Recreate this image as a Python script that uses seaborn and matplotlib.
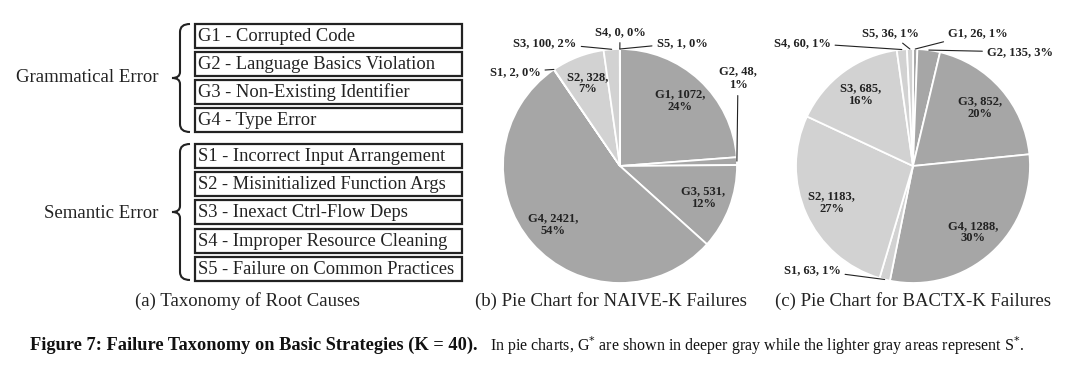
import numpy as np
import matplotlib
matplotlib.use("Agg")
import matplotlib.pyplot as plt
import seaborn as sns
from matplotlib.patches import Rectangle, PathPatch
from matplotlib.path import Path

# ---------------- data ----------------
codes = ["G1", "G2", "G3", "G4", "S1", "S2", "S3", "S4", "S5"]
cause_names = ["Corrupted Code", "Language Basics Violation", "Non-Existing Identifier",
               "Type Error", "Incorrect Input Arrangement", "Misinitialized Function Args",
               "Inexact Ctrl-Flow Deps", "Improper Resource Cleaning",
               "Failure on Common Practices"]
group_names = ["Grammatical Error", "Semantic Error"]
naive_counts = [1072, 48, 531, 2421, 2, 328, 100, 0, 1]
bactx_counts = [26, 135, 852, 1288, 63, 1183, 685, 60, 36]
panel_titles = ["(a) Taxonomy of Root Causes", "(b) Pie Chart for NAIVE-K Failures",
                "(c) Pie Chart for BACTX-K Failures"]

sns.set_theme(style="white")
plt.rcParams["font.family"] = ["Liberation Serif", "DejaVu Serif"]

W, H = 1080, 377
fig = plt.figure(figsize=(W / 100, H / 100), dpi=100)
ax = fig.add_axes([0, 0, 1, 1])
dark, light = "#a6a6a6", "#d2d2d2"
colors = [dark if c.startswith("G") else light for c in codes]

def Y(y):
    return H - y

# ---------------- panel (a) ----------------
box_tops = [24, 52, 80, 108, 144, 172, 200, 229, 257]
box_h = 23.5
for top, code, name in zip(box_tops, codes, cause_names):
    ax.add_patch(Rectangle((195, Y(top + box_h)), 267, box_h, fill=False,
                           edgecolor="#222222", lw=1.6))
    ax.text(198, Y(top + box_h / 2 + 0.5), f"{code} - {name}", fontsize=13.3,
            ha="left", va="center", color="#222222")

def brace(x_end, x_spine, x_tip, y_top, y_bot):
    yt, yb = Y(y_top), Y(y_bot)
    ym = (yt + yb) / 2
    verts = [(x_end, yt), (x_spine, yt), (x_spine, yt - 8),
             (x_spine, ym + 6),
             (x_spine, ym), (x_tip, ym),
             (x_spine, ym), (x_spine, ym - 6),
             (x_spine, yb + 8),
             (x_spine, yb), (x_end, yb)]
    codes_p = [Path.MOVETO, Path.CURVE3, Path.CURVE3, Path.LINETO,
               Path.CURVE3, Path.CURVE3, Path.CURVE3, Path.CURVE3,
               Path.LINETO, Path.CURVE3, Path.CURVE3]
    ax.add_patch(PathPatch(Path(verts, codes_p), fill=False, lw=1.5, edgecolor="#222222"))

brace(190, 180, 172, 24, 132)
brace(190, 180, 172, 144, 280)
ax.text(158, Y(78), group_names[0], fontsize=13.5, ha="right", va="center", color="#222222")
ax.text(158, Y(213), group_names[1], fontsize=13.5, ha="right", va="center", color="#222222")

# ---------------- pies ----------------
R = 117
lab_kw = dict(fontsize=9, fontweight="bold", color="#222222", ha="center", va="center")

def draw_pie(counts, cx, cy, external):
    total = sum(counts)
    wedges, _ = ax.pie(counts, colors=colors, startangle=90, counterclock=False,
                       center=(cx, Y(cy)), radius=R, frame=True,
                       wedgeprops=dict(edgecolor="white", linewidth=1.3))
    for w, code, v in zip(wedges, codes, counts):
        pct = round(100 * v / total)
        mid = np.deg2rad((w.theta1 + w.theta2) / 2)
        if code in external:
            tx, ty, txt = external[code]
            txt = txt.format(code=code, v=v, p=pct)
            ex, ey = cx + R * np.cos(mid), Y(cy) + R * np.sin(mid)
            ax.annotate(txt, xy=(ex, ey), xytext=(tx, Y(ty)),
                        arrowprops=dict(arrowstyle="-", lw=0.8, color="#222222",
                                        shrinkA=1, shrinkB=0), **lab_kw)
        else:
            r = 0.76 * R
            ax.text(cx + r * np.cos(mid), Y(cy) + r * np.sin(mid),
                    f"{code}, {v},\n{pct}%", linespacing=1.05, **lab_kw)

one = "{code}, {v}, {p}%"
draw_pie(naive_counts, 620, 166, {
    "S1": (515, 72, one), "S3": (545, 43, one), "S4": (620, 32, one),
    "S5": (682, 43, one), "G2": (738, 78, "{code}, {v},\n{p}%")})
draw_pie(bactx_counts, 913, 166, {
    "S5": (890, 33, one), "G1": (978, 33, one), "G2": (1020, 52, one),
    "S4": (802, 43, one), "S1": (812, 270, one)})

# ---------------- captions ----------------
for x, t in zip([247, 611, 913], panel_titles):
    ax.text(x, Y(301), t, fontsize=13.5, ha="center", va="center", color="#222222")

ax.text(30, Y(345), "Figure 7: Failure Taxonomy on Basic Strategies (K = 40).",
        fontsize=13.2, fontweight="bold", ha="left", va="center", color="#111111")
ax.text(490, Y(346), r"In pie charts, G$^{*}$ are shown in deeper gray while the lighter gray areas represent S$^{*}$.",
        fontsize=11.5, ha="left", va="center", color="#111111")

ax.set_xlim(0, W)
ax.set_ylim(0, H)
ax.set_aspect("equal")
ax.axis("off")
fig.savefig("out.png", dpi=100, facecolor="white")
